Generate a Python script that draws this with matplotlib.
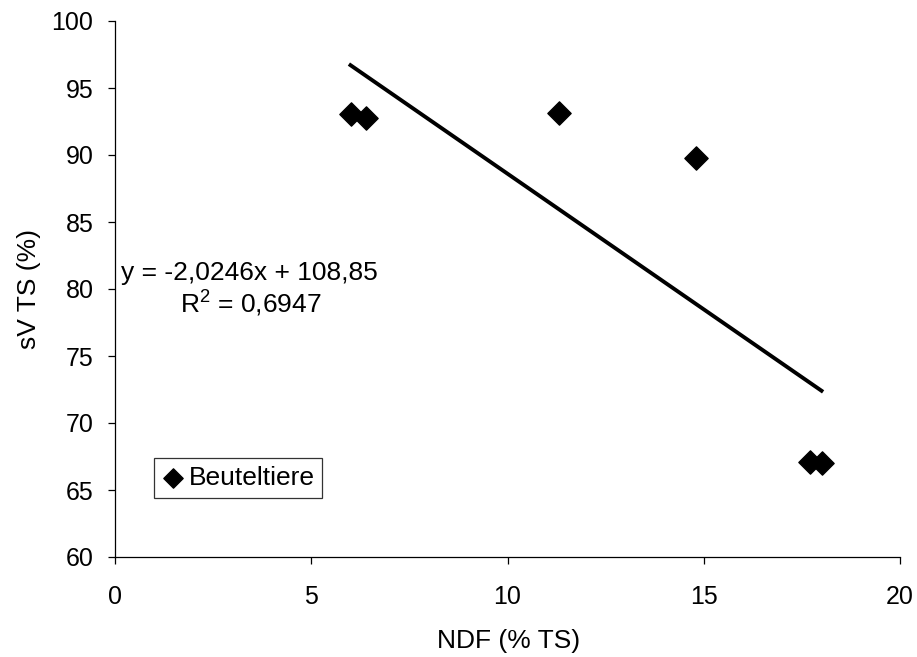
import numpy as np
import matplotlib
matplotlib.use('Agg')
import matplotlib.pyplot as plt

plt.rcParams['font.family'] = ['Liberation Sans', 'DejaVu Sans']

# data
ndf = [6.0, 6.4, 11.3, 14.8, 17.7, 18.0]
svts = [93.05, 92.75, 93.15, 89.8, 67.1, 67.0]
slope = -2.0246
intercept = 108.85
r2 = 0.6947

fs_tick = 18
fs = 19

fig = plt.figure(figsize=(9.17, 6.57), dpi=100)
ax = fig.add_axes([115/917, 1 - 557/657, 785/917, (557-21)/657])

ax.scatter(ndf, svts, marker='D', s=140, color='black', zorder=3, label='Beuteltiere')

# trend line over the data range
xl = np.array([min(ndf), max(ndf)])
ax.plot(xl, slope * xl + intercept, color='black', lw=2.8, zorder=2)

ax.set_xlim(0, 20)
ax.set_ylim(60, 100)
ax.set_xticks([0, 5, 10, 15, 20])
ax.set_yticks(range(60, 101, 5))
ax.spines['top'].set_visible(False)
ax.spines['right'].set_visible(False)
for s in ['left', 'bottom']:
    ax.spines[s].set_linewidth(0.9)
ax.tick_params(direction='out', length=5, width=0.9, labelsize=fs_tick, color='black')
ax.tick_params(axis='x', pad=15)
ax.tick_params(axis='y', pad=10.5)

ax.set_xlabel('NDF (% TS)', fontsize=fs, va='center')
ax.set_ylabel('sV TS (%)', fontsize=fs, va='center')
ax.xaxis.set_label_coords(0.501, -0.157)
ax.yaxis.set_label_coords(-0.1096, 0.5)

ax.text(0.15, 80.67, 'y = -2,0246x + 108,85', fontsize=fs, va='baseline')
ax.text(1.65, 78.22, '$\\mathregular{R^2}$ = ' + str(r2).replace('.', ','), fontsize=fs, va='baseline')

leg = ax.legend(loc='upper left', bbox_to_anchor=(0.050, 0.185), borderaxespad=0,
                frameon=True, fancybox=False, edgecolor='black', fontsize=fs,
                handletextpad=0.2, borderpad=0.3, handlelength=0.8, markerscale=0.83)
leg.get_frame().set_linewidth(0.9)

plt.savefig('out.png', dpi=100)
